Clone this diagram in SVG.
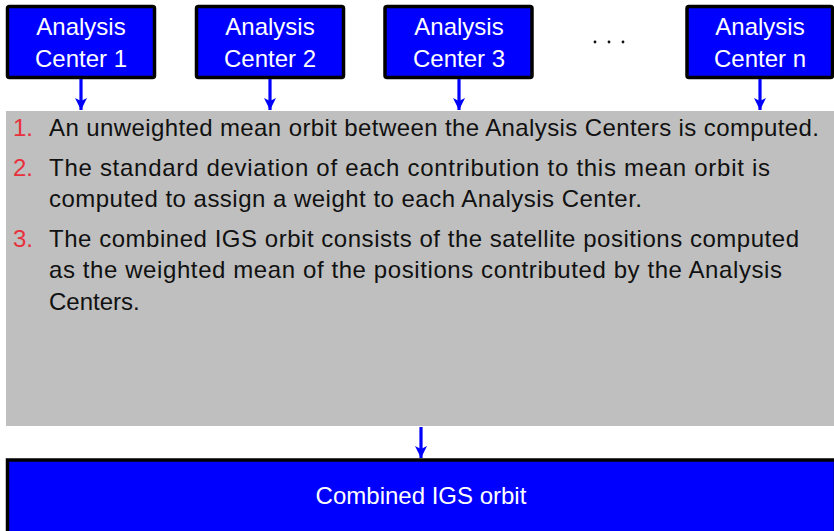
<svg xmlns="http://www.w3.org/2000/svg" width="834" height="531" viewBox="0 0 834 531">
<defs>
<style>
.box{fill:#0000ff;stroke:#000;stroke-width:3.5}
.bt{font-family:"Liberation Sans",Arial,sans-serif;font-size:24px;fill:#fff;text-anchor:middle}
.t{font-family:"Liberation Sans",Arial,sans-serif;font-size:24px;fill:#111}
.n{font-family:"Liberation Sans",Arial,sans-serif;font-size:24px;fill:#e8313c}
.arr{stroke:#0000ff;stroke-width:3.2;fill:none}
</style>
<marker id="ah" viewBox="0 0 12 12" refX="12" refY="6" markerWidth="12" markerHeight="12" markerUnits="userSpaceOnUse" orient="auto">
<path d="M0,0 L12,6 L0,12 L3,6 Z" fill="#0000ff"/>
</marker>
</defs>
<rect width="834" height="531" fill="#fff"/>
<g id="ac1"><rect class="box" x="7.5" y="6.5" width="147" height="71" rx="2"/><text class="bt" x="81" y="35">Analysis</text><text class="bt" x="81" y="67">Center 1</text></g>
<g id="ac2"><rect class="box" x="196.5" y="6.5" width="147" height="71" rx="2"/><text class="bt" x="270" y="35">Analysis</text><text class="bt" x="270" y="67">Center 2</text></g>
<g id="ac3"><rect class="box" x="385" y="6.5" width="147" height="71" rx="2"/><text class="bt" x="459" y="35">Analysis</text><text class="bt" x="459" y="67">Center 3</text></g>
<g id="dots"><circle cx="595" cy="42" r="1.4" fill="#111"/><circle cx="609" cy="42" r="1.4" fill="#111"/><circle cx="623" cy="42" r="1.4" fill="#111"/></g>
<g id="acn"><rect class="box" x="687" y="6.5" width="145.5" height="71" rx="2"/><text class="bt" x="760" y="35">Analysis</text><text class="bt" x="760" y="67">Center n</text></g>
<g id="steps">
<rect x="6" y="111" width="828" height="315" fill="#bfbfbf"/>
<text class="n" x="13" y="136">1.</text>
<text class="t" x="49" y="136" textLength="770" lengthAdjust="spacing">An unweighted mean orbit between the Analysis Centers is computed.</text>
<text class="n" x="13" y="176">2.</text>
<text class="t" x="49" y="176" textLength="721" lengthAdjust="spacing">The standard deviation of each contribution to this mean orbit is</text>
<text class="t" x="49" y="207" textLength="593" lengthAdjust="spacing">computed to assign a weight to each Analysis Center.</text>
<text class="n" x="13" y="247">3.</text>
<text class="t" x="49" y="247" textLength="750" lengthAdjust="spacing">The combined IGS orbit consists of the satellite positions computed</text>
<text class="t" x="49" y="278" textLength="733" lengthAdjust="spacing">as the weighted mean of the positions contributed by the Analysis</text>
<text class="t" x="49" y="310">Centers.</text>
</g>
<g id="combined"><rect class="box" x="7.5" y="460" width="828" height="73"/><text class="bt" x="421" y="504">Combined IGS orbit</text></g>
<g id="connectors">
<line class="arr" x1="81" y1="79" x2="81" y2="110" marker-end="url(#ah)"/>
<line class="arr" x1="270" y1="79" x2="270" y2="110" marker-end="url(#ah)"/>
<line class="arr" x1="459" y1="79" x2="459" y2="110" marker-end="url(#ah)"/>
<line class="arr" x1="760" y1="79" x2="760" y2="110" marker-end="url(#ah)"/>
<line class="arr" x1="421" y1="427" x2="421" y2="458" marker-end="url(#ah)"/>
</g>
</svg>
